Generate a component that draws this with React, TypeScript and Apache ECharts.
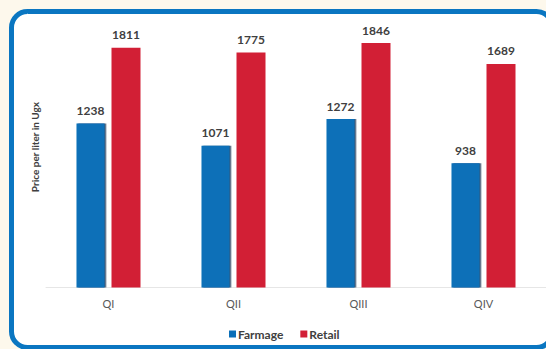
import React, { useEffect, useRef } from "react";
import * as echarts from "echarts";

const quarters = ["QI", "QII", "QIII", "QIV"];
const farmage = [1238, 1071, 1272, 938];
const retail = [1811, 1775, 1846, 1689];
const seriesNames = ["Farmage", "Retail"];

const FONT = "Lato, 'Open Sans', sans-serif";

export default function App() {
  const ref = useRef<HTMLDivElement>(null);

  useEffect(() => {
    if (!ref.current) return;
    const chart = echarts.init(ref.current, undefined, { renderer: "svg" });
    const labelStyle = {
      show: true,
      position: "top" as const,
      distance: 7,
      color: "#404040",
      fontWeight: "bold" as const,
      fontSize: 12,
      fontFamily: FONT,
    };
    chart.setOption({
      animation: false,
      backgroundColor: "#fdf8ec",
      textStyle: { fontFamily: FONT },
      graphic: [
        {
          type: "rect",
          z: -10,
          silent: true,
          shape: { x: 11.5, y: 11.5, width: 541, height: 336, r: 16 },
          style: { fill: "#ffffff", stroke: "#0a76c1", lineWidth: 5 },
        },
      ],
      grid: { left: 46, right: -6, top: 22.7, bottom: 61.5 },
      legend: {
        data: seriesNames,
        top: 323,
        left: 224,
        itemWidth: 7,
        itemHeight: 7,
        itemGap: 17,
        icon: "rect",
        textStyle: {
          color: "#404040",
          fontWeight: "bold",
          fontSize: 12,
          fontFamily: FONT,
          padding: [0, 0, 0, -3],
        },
      },
      xAxis: {
        type: "category",
        data: quarters,
        axisTick: { show: false },
        axisLine: { lineStyle: { color: "#e6e6e6", width: 1 } },
        axisLabel: { color: "#595959", fontSize: 11, margin: 10, fontFamily: FONT },
      },
      yAxis: {
        type: "value",
        min: 0,
        max: 2000,
        name: "Price per liter in Ugx",
        nameLocation: "middle",
        nameGap: 6,
        nameRotate: 90,
        nameTextStyle: {
          color: "#404040",
          fontWeight: "bold",
          fontSize: 10,
          fontFamily: FONT,
          padding: [0, 0, 0, 16],
        },
        axisLabel: { show: false },
        axisLine: { show: false },
        axisTick: { show: false },
        splitLine: { show: false },
      },
      series: [
        {
          name: seriesNames[0],
          type: "bar",
          data: farmage,
          barWidth: 28,
          barGap: "25%",
          itemStyle: {
            color: "#0b6fb8",
            shadowColor: "rgba(22,45,75,0.85)",
            shadowOffsetX: 1.5,
            shadowBlur: 0,
          },
          label: labelStyle,
        },
        {
          name: seriesNames[1],
          type: "bar",
          data: retail,
          barWidth: 29,
          itemStyle: { color: "#d21f35" },
          label: labelStyle,
        },
      ],
    });
    return () => chart.dispose();
  }, []);

  return (
    <div
      ref={ref}
      style={{ position: "fixed", left: 0, top: 0, width: 546, height: 349 }}
    />
  );
}
